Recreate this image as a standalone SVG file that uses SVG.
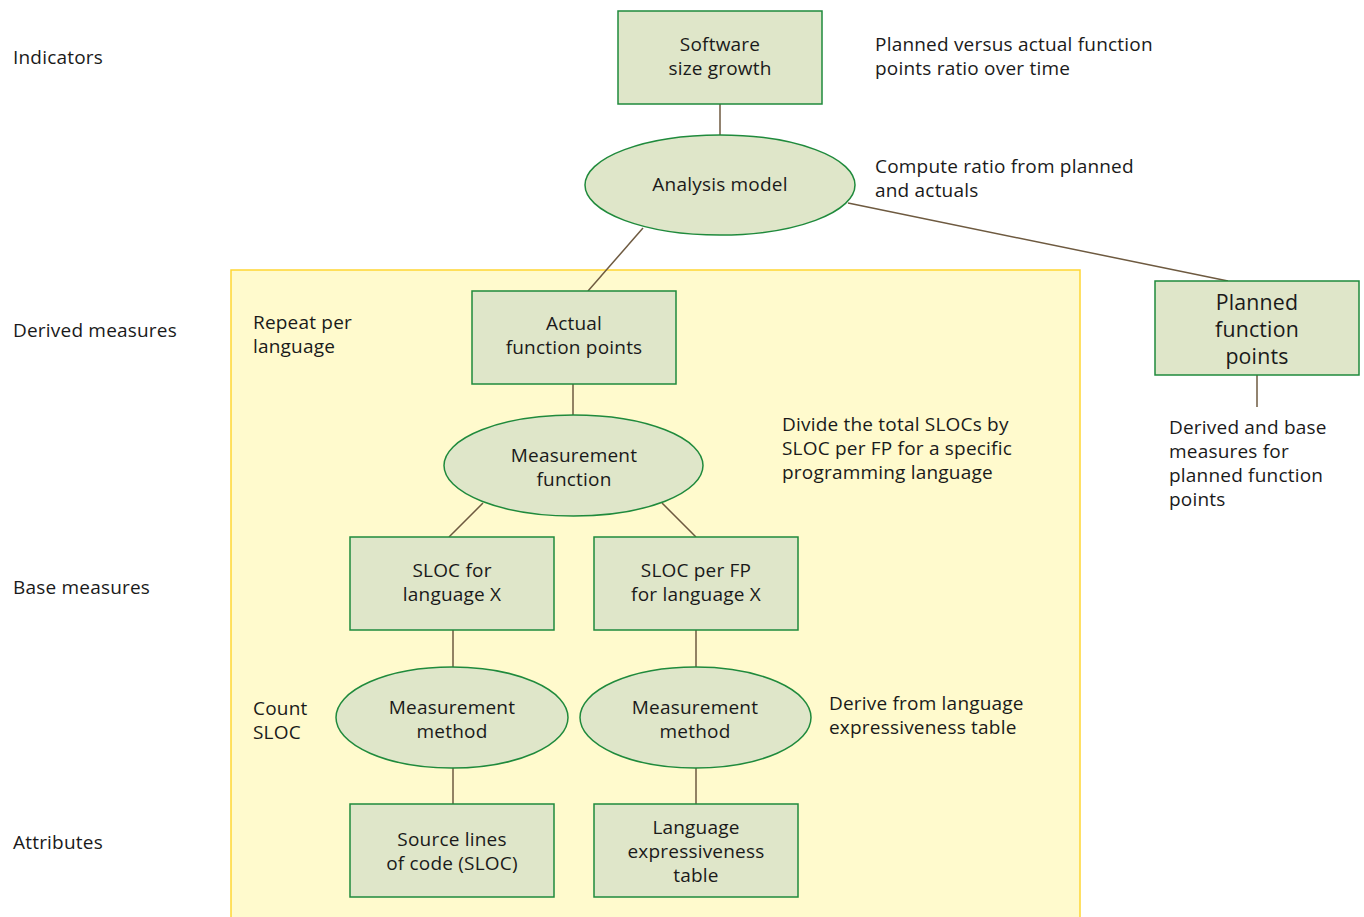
<svg xmlns="http://www.w3.org/2000/svg" width="1364" height="917" viewBox="0 0 1364 917">
<style>
text{font-family:"Open Sans","Noto Sans","Liberation Sans",sans-serif;font-size:19px;letter-spacing:0.2px;fill:#1a1a1a}
.c{text-anchor:middle}
.n{fill:#dfe6c9;stroke:#1f8a3c;stroke-width:1.5}
.l{stroke:#6e5a40;stroke-width:1.5;fill:none}
.big{font-size:21.3px}
</style>
<rect width="1364" height="917" fill="#ffffff"/>
<g id="region">
<rect x="231" y="270" width="849" height="660" fill="#fffacd" stroke="#ffd633" stroke-width="1.5"/>
</g>
<g id="connectors">
<line class="l" x1="720" y1="104" x2="720" y2="135"/>
<line class="l" x1="643" y1="228" x2="588" y2="291"/>
<line class="l" x1="848" y1="203" x2="1228" y2="281"/>
<line class="l" x1="573" y1="384" x2="573" y2="415"/>
<line class="l" x1="483" y1="503" x2="449" y2="537"/>
<line class="l" x1="662" y1="503" x2="696" y2="537"/>
<line class="l" x1="453" y1="630" x2="453" y2="667"/>
<line class="l" x1="696" y1="630" x2="696" y2="667"/>
<line class="l" x1="453" y1="768" x2="453" y2="804"/>
<line class="l" x1="696" y1="768" x2="696" y2="804"/>
<line class="l" x1="1257" y1="375" x2="1257" y2="407"/>
</g>
<g id="labels">
<text x="13" y="64">Indicators</text>
<text x="13" y="337">Derived measures</text>
<text x="13" y="594">Base measures</text>
<text x="13" y="849">Attributes</text>
<text x="875" y="51">Planned versus actual function</text>
<text x="875" y="75">points ratio over time</text>
<text x="875" y="173">Compute ratio from planned</text>
<text x="875" y="197">and actuals</text>
<text x="253" y="329">Repeat per</text>
<text x="253" y="353">language</text>
<text x="782" y="431">Divide the total SLOCs by</text>
<text x="782" y="455">SLOC per FP for a specific</text>
<text x="782" y="479">programming language</text>
<text x="253" y="715">Count</text>
<text x="253" y="739">SLOC</text>
<text x="829" y="710">Derive from language</text>
<text x="829" y="734">expressiveness table</text>
<text x="1169" y="434">Derived and base</text>
<text x="1169" y="458">measures for</text>
<text x="1169" y="482">planned function</text>
<text x="1169" y="506">points</text>
</g>
<g id="software-size-growth">
<rect class="n" x="618" y="11" width="204" height="93"/>
<text class="c" x="720" y="51">Software</text>
<text class="c" x="720" y="75">size growth</text>
</g>
<g id="analysis-model">
<ellipse class="n" cx="720" cy="185" rx="135" ry="50"/>
<text class="c" x="720" y="191">Analysis model</text>
</g>
<g id="planned-function-points">
<rect class="n" x="1155" y="281" width="204" height="94"/>
<text class="c big" x="1257" y="310">Planned</text>
<text class="c big" x="1257" y="337">function</text>
<text class="c big" x="1257" y="364">points</text>
</g>
<g id="actual-function-points">
<rect class="n" x="472" y="291" width="204" height="93"/>
<text class="c" x="574" y="330">Actual</text>
<text class="c" x="574" y="354">function points</text>
</g>
<g id="measurement-function">
<ellipse class="n" cx="573.500" cy="465.500" rx="129.500" ry="50.500"/>
<text class="c" x="574" y="462">Measurement</text>
<text class="c" x="574" y="486">function</text>
</g>
<g id="sloc-for-language">
<rect class="n" x="350" y="537" width="204" height="93"/>
<text class="c" x="452" y="577">SLOC for</text>
<text class="c" x="452" y="601">language X</text>
</g>
<g id="sloc-per-fp">
<rect class="n" x="594" y="537" width="204" height="93"/>
<text class="c" x="696" y="577">SLOC per FP</text>
<text class="c" x="696" y="601">for language X</text>
</g>
<g id="measurement-method-1">
<ellipse class="n" cx="452" cy="717.500" rx="116" ry="50.500"/>
<text class="c" x="452" y="714">Measurement</text>
<text class="c" x="452" y="738">method</text>
</g>
<g id="measurement-method-2">
<ellipse class="n" cx="695.500" cy="717.500" rx="115.500" ry="50.500"/>
<text class="c" x="695" y="714">Measurement</text>
<text class="c" x="695" y="738">method</text>
</g>
<g id="source-lines">
<rect class="n" x="350" y="804" width="204" height="93"/>
<text class="c" x="452" y="846">Source lines</text>
<text class="c" x="452" y="870">of code (SLOC)</text>
</g>
<g id="language-expressiveness">
<rect class="n" x="594" y="804" width="204" height="93"/>
<text class="c" x="696" y="834">Language</text>
<text class="c" x="696" y="858">expressiveness</text>
<text class="c" x="696" y="882">table</text>
</g>
</svg>
